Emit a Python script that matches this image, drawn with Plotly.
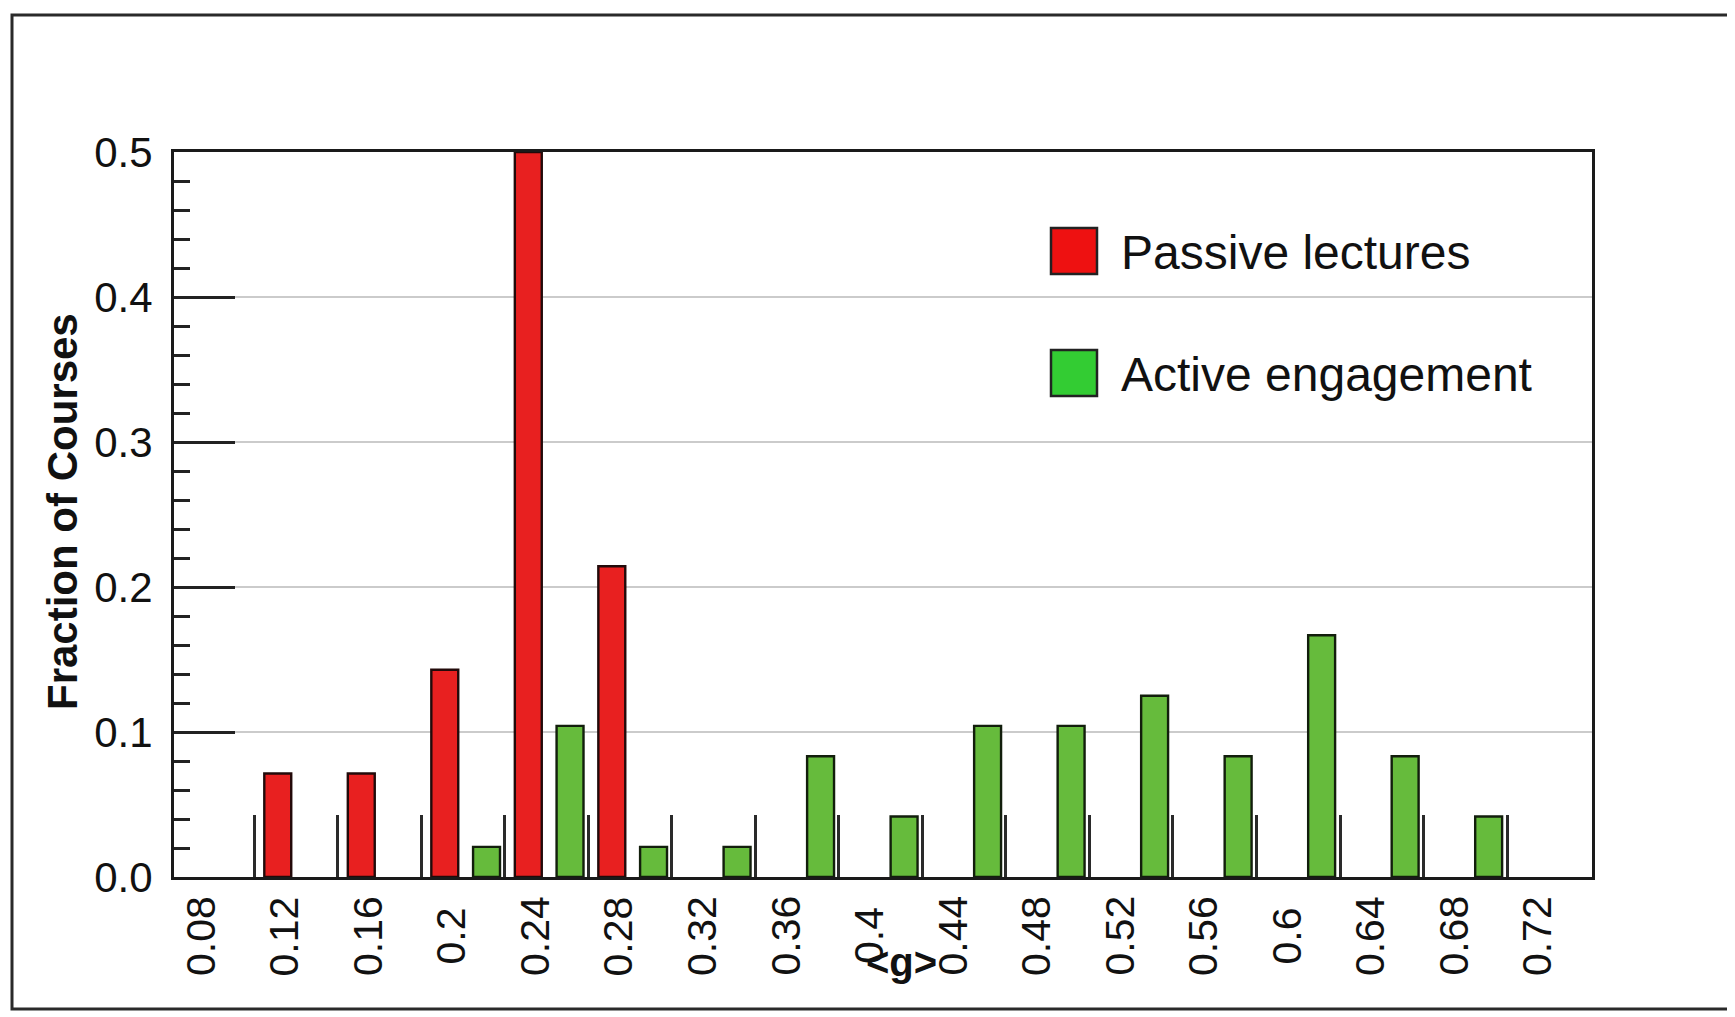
import plotly.graph_objects as go

# ---------------- data ----------------
passive_g = [0.12, 0.16, 0.20, 0.24, 0.28]
passive_frac = [0.0714, 0.0714, 0.1429, 0.5000, 0.2143]

active_g = [0.22, 0.26, 0.30, 0.34, 0.38, 0.42, 0.46, 0.50, 0.54, 0.58, 0.62, 0.66, 0.70]
active_frac = [0.0208, 0.1042, 0.0208, 0.0208, 0.0833, 0.0417, 0.1042, 0.1042,
               0.1250, 0.0833, 0.1667, 0.0833, 0.0417]

x_tick_values = [0.08, 0.12, 0.16, 0.20, 0.24, 0.28, 0.32, 0.36, 0.40, 0.44,
                 0.48, 0.52, 0.56, 0.60, 0.64, 0.68, 0.72]
x_tick_labels = ["0.08", "0.12", "0.16", "0.2", "0.24", "0.28", "0.32", "0.36", "0.4",
                 "0.44", "0.48", "0.52", "0.56", "0.6", "0.64", "0.68", "0.72"]
y_tick_values = [0.0, 0.1, 0.2, 0.3, 0.4, 0.5]
y_tick_labels = ["0.0", "0.1", "0.2", "0.3", "0.4", "0.5"]

series_names = ["Passive lectures", "Active engagement"]
x_title = "&lt;g&gt;"
y_title = "Fraction of Courses"

# ---------------- layout geometry ----------------
# The page body has a default 8px margin, so screen positions are shifted by it.
PAGE_OFF = 8
WIDTH, HEIGHT = 1735, 1017
L, R, T, B = 174 - PAGE_OFF, 1592 - PAGE_OFF, 152 - PAGE_OFF, 877 - PAGE_OFF
PW, PH = R - L, B - T


def px(x):
    """screen x (reference pixels) -> paper fraction"""
    return (x - PAGE_OFF - L) / PW


def py(y):
    """screen y (reference pixels) -> paper fraction"""
    return (B - (y - PAGE_OFF)) / PH


FONT = "Liberation Sans, Arial, Helvetica, sans-serif"
BAR_W = 0.0129
BAR_SHIFT = -0.0032
BIN_LINE_SHIFT = 0.0256

fig = go.Figure()
fig.add_trace(go.Bar(
    x=passive_g, y=passive_frac, name=series_names[0],
    width=BAR_W, offset=BAR_SHIFT - BAR_W / 2,
    marker=dict(color="#e82020", line=dict(color="#220a0a", width=2.4)),
))
fig.add_trace(go.Bar(
    x=active_g, y=active_frac, name=series_names[1],
    width=BAR_W, offset=BAR_SHIFT - BAR_W / 2,
    marker=dict(color="#66bb3c", line=dict(color="#121e0c", width=2.4)),
))

bin_lines = [v + BIN_LINE_SHIFT for v in x_tick_values[:-1]]

fig.update_layout(
    width=WIDTH, height=HEIGHT,
    margin=dict(l=L, r=WIDTH - R, t=T, b=HEIGHT - B, autoexpand=False),
    paper_bgcolor="white", plot_bgcolor="white",
    barmode="overlay", showlegend=False,
    font=dict(family=FONT, color="#111111"),
    xaxis=dict(
        range=[0.0671, 0.7463], tickmode="array", tickvals=bin_lines,
        showticklabels=False, ticks="inside", ticklen=62, tickwidth=2.5,
        tickcolor="#2a2a2a", showgrid=False, zeroline=False,
        showline=True, linecolor="#1a1a1a", linewidth=3, mirror=True,
    ),
    yaxis=dict(
        range=[0, 0.5], tickmode="array", tickvals=y_tick_values, ticktext=y_tick_labels,
        ticks="inside", ticklen=61, tickwidth=3, tickcolor="#222222",
        tickfont=dict(size=42, family=FONT, color="#111111"), ticklabelstandoff=10,
        minor=dict(dtick=0.02, ticks="inside", ticklen=16, tickwidth=3,
                   tickcolor="#222222", showgrid=False),
        showgrid=True, gridcolor="#cbcbcb", gridwidth=2, zeroline=False,
        showline=True, linecolor="#1a1a1a", linewidth=3, mirror=True,
    ),
)

annotations = []
for v, t in zip(x_tick_values, x_tick_labels):
    annotations.append(dict(
        x=v, y=py(936), xref="x", yref="paper", text=t, showarrow=False,
        textangle=-90, xanchor="center", yanchor="middle",
        font=dict(size=41, family=FONT, color="#111111"),
    ))

annotations.append(dict(
    x=px(901), y=py(962), xref="paper", yref="paper", text=x_title,
    showarrow=False, xanchor="center", yanchor="middle",
    font=dict(size=40, family=FONT, color="#111111", weight="bold"),
))
annotations.append(dict(
    x=px(62), y=py(512), xref="paper", yref="paper", text=y_title,
    showarrow=False, textangle=-90, xanchor="center", yanchor="middle",
    font=dict(size=42, family=FONT, color="#111111", weight="bold"),
))

# legend (drawn manually so swatches match the large reference squares)
legend_rows = [(series_names[0], "#ee1111", 228), (series_names[1], "#33cc33", 350)]
shapes = []
for name, col, top in legend_rows:
    shapes.append(dict(
        type="rect", xref="paper", yref="paper",
        x0=px(1051), x1=px(1097), y0=py(top + 46), y1=py(top),
        fillcolor=col, line=dict(color="#222222", width=2.5),
    ))
    annotations.append(dict(
        x=px(1119), y=py(top + 24), xref="paper", yref="paper", text=name,
        showarrow=False, xanchor="left", yanchor="middle",
        font=dict(size=48, family=FONT, color="#111111"),
    ))

# outer frame of the picture
shapes.append(dict(
    type="rect", xref="paper", yref="paper",
    x0=px(12), x1=px(1732), y0=py(1009), y1=py(15),
    line=dict(color="#2a2a2a", width=3), fillcolor="rgba(0,0,0,0)", layer="below",
))

fig.update_layout(annotations=annotations, shapes=shapes)
fig.write_html("out.html")
